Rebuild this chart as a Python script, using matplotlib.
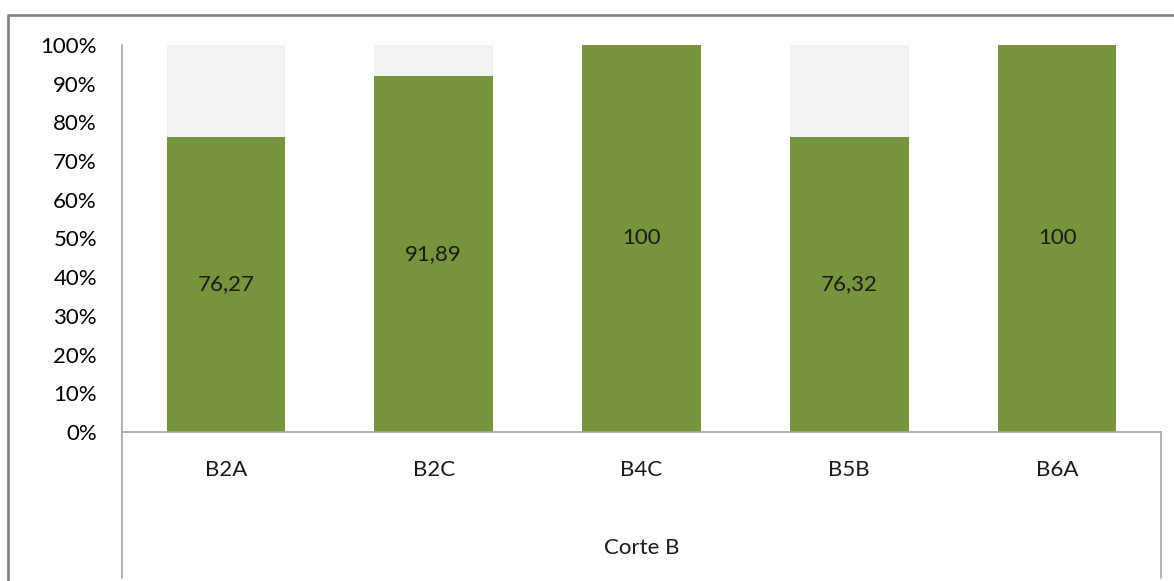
import matplotlib.pyplot as plt
from matplotlib.lines import Line2D

plt.rcParams['font.family'] = ['Lato', 'DejaVu Sans']

categorias = ['B2A', 'B2C', 'B4C', 'B5B', 'B6A']
valores = [76.27, 91.89, 100, 76.32, 100]
etiquetas = ['76,27', '91,89', '100', '76,32', '100']
resto = [100 - v for v in valores]
eixo_y = [0, 10, 20, 30, 40, 50, 60, 70, 80, 90, 100]

verde = '#77933C'
cinza = '#F2F2F2'
linha = '#A6A6A6'
fs = 16

W, H = 1174, 581
fig = plt.figure(figsize=(W / 100, H / 100), dpi=100)
ax = fig.add_axes([122 / W, (H - 432) / H, (1161 - 122) / W, (432 - 45) / H])

x = range(len(categorias))
ax.bar(x, valores, width=0.57, color=verde)
ax.bar(x, resto, bottom=valores, width=0.57, color=cinza)

for i, v in enumerate(valores):
    ax.text(i, v / 2, etiquetas[i], ha='center', va='center', fontsize=fs, color='#1a1a1a')

ax.set_xlim(-0.5, len(categorias) - 0.5)
ax.set_ylim(0, 100)
ax.set_yticks(eixo_y)
ax.set_yticklabels([f'{t}%' for t in eixo_y], fontsize=fs)
ax.tick_params(axis='y', length=0, pad=18)
ax.set_xticks([])

for s in ['top', 'right']:
    ax.spines[s].set_visible(False)
ax.spines['left'].set_color(linha)
ax.spines['bottom'].set_color(linha)
ax.spines['left'].set_linewidth(1.2)
ax.spines['bottom'].set_linewidth(1.2)

# eixo de categorias com divisões até o rodapé
for xp in (122, 1161):
    fig.add_artist(Line2D([xp / W, xp / W], [1 - 432 / H, 1 - 578 / H], color=linha, lw=1.2))

for i, c in enumerate(categorias):
    cx = (122 + (i + 0.5) * (1161 - 122) / len(categorias)) / W
    fig.text(cx, 1 - 470 / H, c, ha='center', va='center', fontsize=fs, color='#1a1a1a')

fig.text((122 + 1161) / 2 / W, 1 - 548 / H, 'Corte B', ha='center', va='center', fontsize=fs, color='#1a1a1a')

# moldura externa
fig.add_artist(Line2D([8 / W, 8 / W, 1.0], [0.0, 1 - 15 / H, 1 - 15 / H], color='#868686', lw=2))

fig.savefig('out.png', dpi=100)
